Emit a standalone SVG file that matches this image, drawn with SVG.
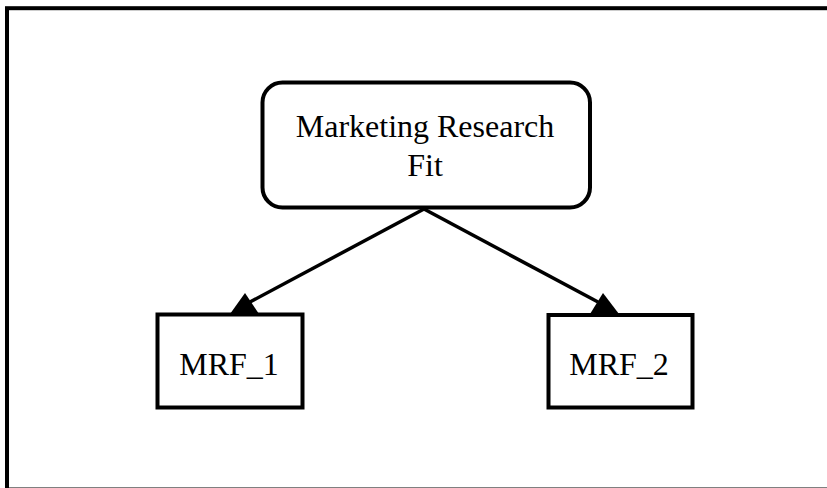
<svg xmlns="http://www.w3.org/2000/svg" width="827" height="488" viewBox="0 0 827 488">
  <style>
    .box { fill: #fff; stroke: #000; stroke-width: 4; }
    .edge { fill: none; stroke: #000; stroke-width: 3.5; }
    .head { fill: #000; stroke: none; }
    .label { font-family: "Liberation Serif", "Times New Roman", serif; font-size: 32px; fill: #000; text-anchor: middle; }
  </style>
  <rect x="0" y="0" width="827" height="488" fill="#fff"/>
  <!-- outer frame -->
  <rect x="7" y="8.2" width="840" height="481.3" fill="none" stroke="#000" stroke-width="4"/>

  <g id="connectors">
    <line class="edge" x1="424" y1="209" x2="250" y2="302"/>
    <polygon class="head" points="245,293 230,314 259,314"/>
    <line class="edge" x1="424" y1="209" x2="598" y2="302"/>
    <polygon class="head" points="603,293 590,314 619,314"/>
  </g>

  <g id="node-mrf">
    <rect class="box" x="262.5" y="82.5" width="327.5" height="125" rx="20" ry="20"/>
    <text class="label" x="425" y="137">Marketing Research</text>
    <text class="label" x="425" y="176">Fit</text>
  </g>

  <g id="node-mrf1">
    <rect class="box" x="157.5" y="314.5" width="145" height="93"/>
    <text class="label" x="229" y="375">MRF_1</text>
  </g>

  <g id="node-mrf2">
    <rect class="box" x="548.5" y="315" width="144" height="92.5"/>
    <text class="label" x="619" y="375">MRF_2</text>
  </g>
</svg>
